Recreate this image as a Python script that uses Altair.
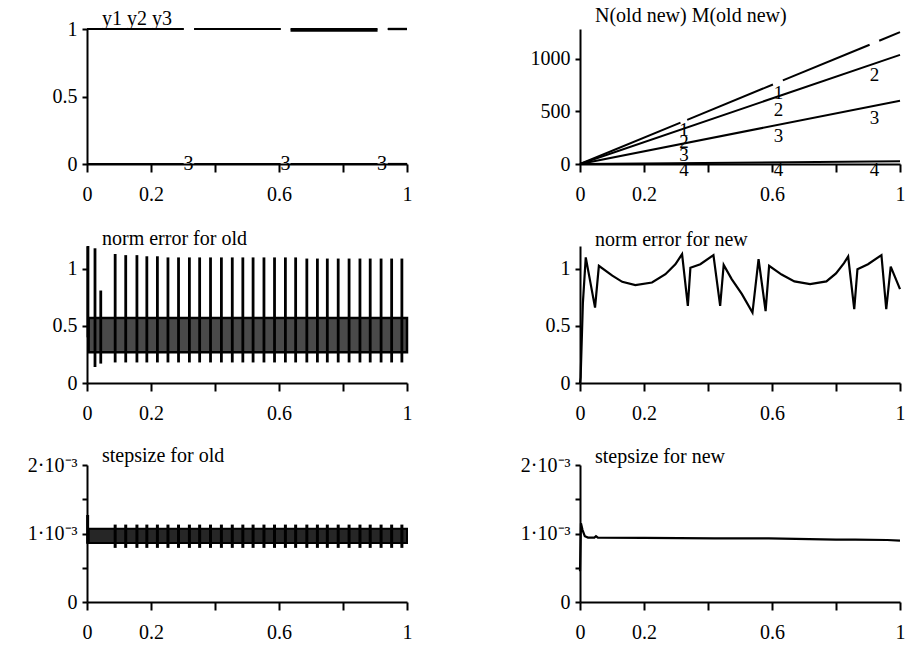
import altair as alt
import pandas as pd

FONT = "Liberation Serif"
INK = "black"

# shared abscissa ticks; 0.4 and 0.8 carry a tick but no label
x_ticks = [0, 0.2, 0.4, 0.6, 0.8, 1]

# ---------- y1 y2 y3 ----------
sol_seg_start = [0.0, 0.335, 0.636, 0.940]
sol_seg_end = [0.302, 0.605, 0.908, 1.0]
sol_y1 = [1.0, 1.0, 1.0, 1.0]
sol_y2 = [1.0, 1.0, 0.988, 1.0]
sol_y3 = [0.0, 0.0, 0.0, 0.0]
sol_lab_x = [0.317, 0.620, 0.922]
sol_lab_y = [0.0, 0.0, 0.0]
sol_lab_txt = ["3", "3", "3"]

# ---------- N(old new) M(old new) ----------
cnt1_x = [0.0, 0.314, 0.335, 0.603, 0.634, 0.905, 0.935, 1.0]
cnt1_y = [0, 393, 419, 754, 793, 1131, 1169, 1250]
cnt1_seg = [1, 1, 2, 2, 3, 3, 4, 4]
cnt_end_x = [0.0, 1.0]
cnt2_y = [0, 1035]
cnt3_y = [0, 600]
cnt4_y = [0, 25]
cnt_lab_x = [0.325, 0.325, 0.325, 0.325, 0.62, 0.62, 0.62, 0.62, 0.92, 0.92, 0.92]
cnt_lab_y = [372, 252, 132, -5, 722, 556, 315, -12, 890, 486, -12]
cnt_lab_txt = ["1", "2", "3", "4", "1", "2", "3", "4", "2", "3", "4"]

# ---------- norm error for old ----------
err_old_band_x = [0.005, 1.0]
err_old_band_lo = [0.27, 0.27]
err_old_band_hi = [0.57, 0.57]
err_old_spike_x = [0.003, 0.025, 0.043, 0.088, 0.121, 0.156, 0.187, 0.220, 0.253,
                   0.286, 0.320, 0.352, 0.386, 0.420, 0.454, 0.487, 0.519, 0.553,
                   0.586, 0.620, 0.652, 0.687, 0.720, 0.751, 0.785, 0.819, 0.853,
                   0.885, 0.919, 0.952, 0.984]
err_old_spike_top = [1.20, 1.18, 0.81, 1.13, 1.12, 1.12, 1.11, 1.11, 1.10,
                     1.10, 1.10, 1.10, 1.10, 1.10, 1.10, 1.10, 1.10, 1.10,
                     1.10, 1.10, 1.10, 1.09, 1.09, 1.09, 1.09, 1.09, 1.09,
                     1.09, 1.09, 1.09, 1.09]
err_old_spike_low = [0.40, 0.14, 0.17, 0.18, 0.18, 0.18, 0.18, 0.18, 0.18,
                     0.18, 0.18, 0.18, 0.18, 0.18, 0.18, 0.18, 0.18, 0.18,
                     0.18, 0.18, 0.18, 0.18, 0.18, 0.18, 0.18, 0.18, 0.18,
                     0.18, 0.18, 0.18, 0.18]

# ---------- norm error for new ----------
err_new_x = [0.0, 0.002, 0.009, 0.018, 0.047, 0.059, 0.101, 0.132, 0.173, 0.225,
             0.267, 0.298, 0.319, 0.337, 0.345, 0.376, 0.417, 0.438, 0.449, 0.474,
             0.506, 0.539, 0.558, 0.580, 0.591, 0.630, 0.670, 0.719, 0.770, 0.800,
             0.825, 0.838, 0.857, 0.867, 0.900, 0.942, 0.957, 0.971, 1.0]
err_new_y = [0.0, 0.05, 0.70, 1.10, 0.66, 1.026, 0.94, 0.886, 0.857, 0.88,
             0.953, 1.04, 1.129, 0.675, 1.01, 1.04, 1.12, 0.675, 1.035, 0.91,
             0.778, 0.617, 1.085, 0.63, 1.026, 0.95, 0.89, 0.866, 0.89, 0.96,
             1.05, 1.108, 0.646, 0.997, 1.04, 1.12, 0.646, 1.02, 0.822]

# ---------- stepsize for old ----------
step_old_band_x = [0.005, 1.0]
step_old_band_lo = [0.00086, 0.00086]
step_old_band_hi = [0.00107, 0.00107]
step_old_tooth_x = [0.002, 0.088, 0.121, 0.156, 0.187, 0.220, 0.253, 0.286, 0.320,
                    0.352, 0.386, 0.420, 0.454, 0.487, 0.519, 0.553, 0.586, 0.620,
                    0.652, 0.687, 0.720, 0.751, 0.785, 0.819, 0.853, 0.885, 0.919,
                    0.952, 0.984]
step_old_tooth_lo = [0.00085] + [0.00079] * 28
step_old_tooth_hi = [0.00127] + [0.00113] * 28

# ---------- stepsize for new ----------
step_new_x = [0.0, 0.003, 0.008, 0.015, 0.025, 0.045, 0.050, 0.056, 0.200, 0.420,
              0.550, 0.590, 0.800, 0.860, 0.960, 1.0]
step_new_y = [0.00045, 0.00115, 0.00105, 0.00096, 0.00094, 0.00094, 0.00096, 0.00094,
              0.000935, 0.00093, 0.00093, 0.00093, 0.00091, 0.00091, 0.000905, 0.000895]


def x_enc(field="x"):
    return alt.X(
        f"{field}:Q",
        scale=alt.Scale(domain=[0, 1], nice=False, zero=False),
        axis=alt.Axis(
            values=x_ticks, format="~g",
            labelExpr="datum.value == 0.4 || datum.value == 0.8 ? '' : datum.label",
            title=None, tickSize=8, labelPadding=12,
        ),
    )


def y_enc(field, domain, values, label_expr="datum.label", fmt="~g"):
    return alt.Y(
        f"{field}:Q",
        scale=alt.Scale(domain=domain, nice=False, zero=False),
        axis=alt.Axis(values=values, format=fmt, labelExpr=label_expr, title=None,
                      tickSize=5, labelPadding=5),
    )


def title(text, offset):
    return alt.TitleParams(text, anchor="start", frame="group", dx=15,
                           offset=offset, baseline="alphabetic",
                           font=FONT, fontSize=20, fontWeight="normal", color=INK)


W, H1, H2 = 320, 135, 137

# ----- panel 1 -----
sol_df = pd.DataFrame({
    "x": sol_seg_start * 3,
    "x2": sol_seg_end * 3,
    "y": sol_y1 + sol_y2 + sol_y3,
})
sol_lab = pd.DataFrame({"x": sol_lab_x, "y": sol_lab_y, "t": sol_lab_txt})
y_sol = lambda: y_enc("y", [0, 1], [0, 0.5, 1])
p1 = alt.layer(
    alt.Chart(sol_df).mark_rule(color=INK, strokeWidth=2.2).encode(x=x_enc(), x2="x2", y=y_sol()),
    alt.Chart(sol_lab).mark_text(font=FONT, fontSize=20, color=INK, baseline="middle")
    .encode(x=x_enc(), y=y_sol(), text="t:N"),
).properties(width=W, height=H1, title=title("y1 y2 y3", -26))

# ----- panel 2 -----
cnt_rows = []
for xv, yv, s in zip(cnt1_x, cnt1_y, cnt1_seg):
    cnt_rows.append({"x": xv, "y": yv, "k": f"1-{s}"})
for name, ys in (("2", cnt2_y), ("3", cnt3_y), ("4", cnt4_y)):
    for xv, yv in zip(cnt_end_x, ys):
        cnt_rows.append({"x": xv, "y": yv, "k": name})
cnt_df = pd.DataFrame(cnt_rows)
cnt_lab = pd.DataFrame({"x": cnt_lab_x, "y": cnt_lab_y, "t": cnt_lab_txt})
y_cnt = lambda: y_enc("y", [0, 1280], [0, 500, 1000], fmt="d")
p2 = alt.layer(
    alt.Chart(cnt_df).mark_line(color=INK, strokeWidth=2).encode(x=x_enc(), y=y_cnt(), detail="k:N"),
    alt.Chart(cnt_lab).mark_text(font=FONT, fontSize=19, color=INK, baseline="top", dy=-4)
    .encode(x=x_enc(), y=y_cnt(), text="t:N"),
).properties(width=W, height=H1, title=title("N(old new) M(old new)", -14))

# ----- panel 3 -----
y_err = lambda: y_enc("y", [0, 1.2], [0, 0.5, 1])
eo_band = pd.DataFrame({"x": err_old_band_x, "y": err_old_band_lo, "y2": err_old_band_hi})
eo_spk = pd.DataFrame({"x": err_old_spike_x, "y": err_old_spike_low, "y2": err_old_spike_top})
p3 = alt.layer(
    alt.Chart(eo_band).mark_area(color="#4a4a4a", stroke=INK, strokeWidth=2.5)
    .encode(x=x_enc(), y=y_err(), y2="y2"),
    alt.Chart(eo_spk).mark_rule(color=INK, strokeWidth=2.8).encode(x=x_enc(), y=y_err(), y2="y2"),
).properties(width=W, height=H2, title=title("norm error for old", -20))

# ----- panel 4 -----
en_df = pd.DataFrame({"x": err_new_x, "y": err_new_y})
p4 = alt.layer(
    alt.Chart(en_df).mark_line(color=INK, strokeWidth=2.2).encode(x=x_enc(), y=y_err()),
).properties(width=W, height=H2, title=title("norm error for new", -20))

# ----- panel 5 -----
step_expr = ("datum.value == 0.001 ? '1·10⁻³' : datum.value == 0.002 ? '2·10⁻³' : "
             "datum.value == 0 ? '0' : ''")
y_step = lambda: y_enc("y", [0, 0.002], [0, 0.0005, 0.001, 0.0015, 0.002], step_expr)
so_band = pd.DataFrame({"x": step_old_band_x, "y": step_old_band_lo, "y2": step_old_band_hi})
so_tooth = pd.DataFrame({"x": step_old_tooth_x, "y": step_old_tooth_lo, "y2": step_old_tooth_hi})
p5 = alt.layer(
    alt.Chart(so_band).mark_area(color="#262626", stroke=INK, strokeWidth=2)
    .encode(x=x_enc(), y=y_step(), y2="y2"),
    alt.Chart(so_tooth).mark_rule(color=INK, strokeWidth=3).encode(x=x_enc(), y=y_step(), y2="y2"),
).properties(width=W, height=H2, title=title("stepsize for old", -27))

# ----- panel 6 -----
sn_df = pd.DataFrame({"x": step_new_x, "y": step_new_y})
p6 = alt.layer(
    alt.Chart(sn_df).mark_line(color=INK, strokeWidth=2.2).encode(x=x_enc(), y=y_step()),
).properties(width=W, height=H2, title=title("stepsize for new", -28))

chart = (
    alt.concat(p1, p2, p3, p4, p5, p6, columns=2, spacing={"row": 82, "column": 173})
    .properties(bounds="flush", background="white",
                padding={"left": 27, "top": 6, "right": 5, "bottom": 5})
    .configure_view(stroke=None)
    .configure_axis(
        domainColor=INK, domainWidth=2, tickColor=INK, tickWidth=2,
        labelFont=FONT, labelFontSize=20, labelColor=INK, labelFlush=False,
        labelOverlap=False, grid=False,
    )
)

chart.save("out.html", embed_options={"renderer": "svg", "actions": False})
